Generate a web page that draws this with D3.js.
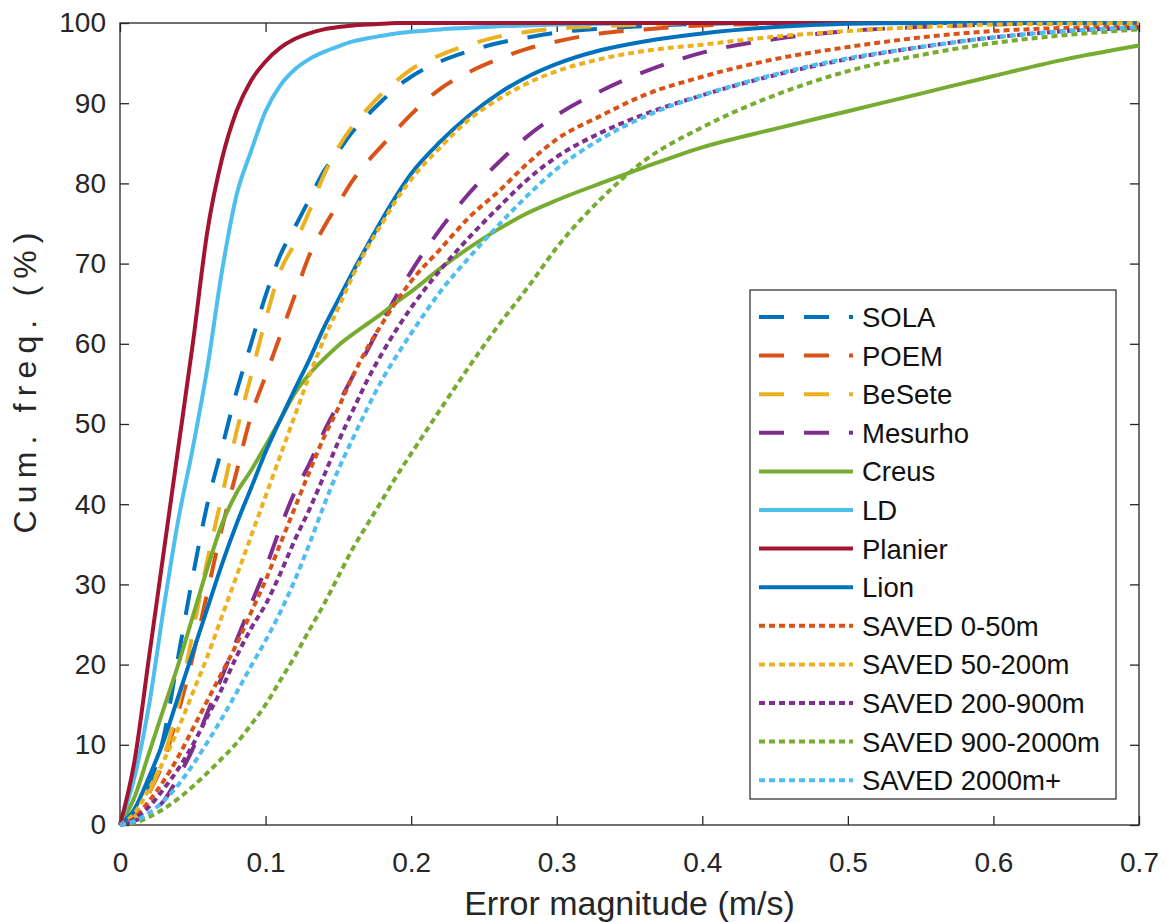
<!DOCTYPE html>
<html><head><meta charset="utf-8">
<script src="https://cdn.jsdelivr.net/npm/d3@7"></script>
<style>
body{margin:0;background:#fff}
svg{display:block}
text{font-family:"Liberation Sans",Arial,Helvetica,sans-serif}
</style>
</head><body>
<svg id="c" width="1168" height="922"></svg>
<script>
// ---- data ----
const errGrid = [0,0.01,0.02,0.03,0.04,0.05,0.06,0.07,0.08,0.09,0.10,0.11,0.12,0.13,0.14,0.15,0.16,0.17,0.18,0.19,0.20,0.22,0.24,0.26,0.28,0.30,0.33,0.36,0.40,0.45,0.50,0.55,0.60,0.65,0.70];

const solaVals    = [0,1.5,5,11,21,31,40,47,54,60,66,71,74.5,78,81.5,84,86.5,88.5,90.3,92,93.3,95.2,96.5,97.5,98.2,98.8,99.3,99.6,99.9,100,100,100,100,100,100];
const poemVals    = [0,1,4,8,14,21,29,37,44,51,56,61,66,71,74.5,77.5,80.4,82.7,84.7,86.7,88.6,91.8,93.9,95.5,96.8,97.7,98.7,99.2,99.7,99.9,100,100,100,100,100];
const beseteVals  = [0,1,4,8.5,15,24,33,41,49,56,63,69,72.5,76.5,81,84.5,87.2,89.3,91.2,92.8,94.2,96,97.3,98.3,98.9,99.3,99.6,99.8,100,100,100,100,100,100,100];
const mesurhoVals = [0,0.5,1.5,3,6,9.5,14,18.5,23,27.5,32,37,41.5,45,49,52.5,56,59.2,62.7,66,69,74.3,78.8,82.6,85.9,88.5,91.5,93.9,96.3,98,99,99.5,99.8,100,100];
const creusVals   = [0,3.5,9,14.5,20,26,32,37.5,41.4,44.2,47.3,50.5,53.8,56.2,58.1,59.8,61.2,62.5,63.8,65.2,66.5,69.4,72,74.3,76.3,77.9,80,82,84.5,86.8,89,91.2,93.4,95.5,97.2];
const ldVals      = [0,6,15,27,38,47,57,69,78.5,84,89,92.2,94.2,95.5,96.4,97.1,97.7,98.1,98.4,98.7,98.9,99.2,99.4,99.6,99.7,99.8,99.9,100,100,100,100,100,100,100,100];
const planierVals = [0,8,21,34,47,60,74,83,89,92.8,95.2,96.9,98,98.7,99.2,99.5,99.7,99.8,99.9,100,100,100,100,100,100,100,100,100,100,100,100,100,100,100,100];
const lionVals    = [0,2,6,10.5,16,21.5,27,32.5,37.5,42,46.5,50.5,54.3,58,62,65.5,69,72.3,75.5,78.5,81.2,85.2,88.5,91.2,93.3,94.9,96.6,97.7,98.7,99.5,99.9,100,100,100,100];
const saved0Vals    = [0,1,3,5.5,8.5,12,15.5,19,22.5,26.5,30.5,35,39.5,44,48.3,52,56,59.5,62.5,65.3,67.8,71.8,75.8,79,82.5,85.5,88.4,91,93.3,95.5,97,98.2,99,99.4,99.6];
const saved50Vals   = [0,1.5,4.5,8,12,16.5,21,26,31,36,41,46,51,56,60.5,64.5,68.5,72,75,78,80.5,84.5,88,90.5,92.5,94,95.5,96.5,97.3,98.3,99,99.5,99.8,99.9,100];
const saved200Vals  = [0,0.8,2.3,4.5,7,10,13.5,17,21,24.5,27.5,31.3,35.5,39.3,43.5,47.8,51.7,55.5,58.8,61.8,64.5,69.2,73.3,77,80.5,83.3,86.3,88.6,91,93.5,95.5,97,98.2,99,99.4];
const saved900Vals  = [0,0.3,1,2,3.3,4.8,6.5,8.3,10.2,12.5,15,18,21,24.3,27.5,31,34.5,37.5,40.5,43.5,46.3,51.8,57.2,62.3,67,72,78,82.8,87,91,94,96,97.5,98.5,99.2];
const saved2000Vals = [0,0.5,1.5,3,5,7.5,10.3,13.3,16.5,19.8,23,26.5,30.5,35,39.8,44.3,48.2,52,55.5,58.5,61.3,66.5,70.8,74.8,78.5,81.8,85.5,88.3,91,93.6,95.6,97,98.2,99,99.5];

const seriesNames = ["SOLA","POEM","BeSete","Mesurho","Creus","LD","Planier","Lion","SAVED 0-50m","SAVED 50-200m","SAVED 200-900m","SAVED 900-2000m","SAVED 2000m+"];
const xTicks = [0,0.1,0.2,0.3,0.4,0.5,0.6,0.7];
const yTicks = [0,10,20,30,40,50,60,70,80,90,100];

// ---- styles ----
const C = {blue:"#0072BD",orange:"#D95319",yellow:"#EDB120",purple:"#7E2F8E",green:"#77AC30",cyan:"#4DBEEE",red:"#A2142F"};
const DASH = "25,20", DOT = "6,4", SOLID = null;
const series = [
  {values:solaVals,color:C.blue,dash:DASH},
  {values:poemVals,color:C.orange,dash:DASH},
  {values:beseteVals,color:C.yellow,dash:DASH},
  {values:mesurhoVals,color:C.purple,dash:DASH},
  {values:creusVals,color:C.green,dash:SOLID},
  {values:ldVals,color:C.cyan,dash:SOLID},
  {values:planierVals,color:C.red,dash:SOLID},
  {values:lionVals,color:C.blue,dash:SOLID},
  {values:saved0Vals,color:C.orange,dash:DOT},
  {values:saved50Vals,color:C.yellow,dash:DOT},
  {values:saved200Vals,color:C.purple,dash:DOT},
  {values:saved900Vals,color:C.green,dash:DOT},
  {values:saved2000Vals,color:C.cyan,dash:DOT}
].map((s,i)=>({...s,name:seriesNames[i]}));

const AX = "#262626";
const svg = d3.select("#c");
svg.append("rect").attr("width",1168).attr("height",922).attr("fill","#fff");

const x = d3.scaleLinear().domain([0,0.7]).range([120,1139]);
const y = d3.scaleLinear().domain([0,100]).range([825,23]);

function styleAxis(g, fs){
  g.select(".domain").remove();
  g.selectAll(".tick line").attr("stroke",AX).attr("stroke-width",1.3);
  g.selectAll(".tick text").attr("fill",AX).attr("font-size",fs);
}
svg.append("g").attr("transform","translate(0,825)")
  .call(d3.axisBottom(x).tickValues(xTicks).tickFormat(d=>String(d)).tickSizeInner(-9).tickSizeOuter(0).tickPadding(27))
  .call(g=>styleAxis(g,28));
svg.append("g").attr("transform","translate(0,23)")
  .call(d3.axisTop(x).tickValues(xTicks).tickFormat("").tickSizeInner(-9).tickSizeOuter(0))
  .call(g=>styleAxis(g,28));
svg.append("g").attr("transform","translate(120,0)")
  .call(d3.axisLeft(y).tickValues(yTicks).tickFormat(d=>String(d)).tickSizeInner(-9).tickSizeOuter(0).tickPadding(14))
  .call(g=>styleAxis(g,28));
svg.append("g").attr("transform","translate(1139,0)")
  .call(d3.axisRight(y).tickValues(yTicks).tickFormat("").tickSizeInner(-9).tickSizeOuter(0))
  .call(g=>styleAxis(g,28));

svg.append("rect").attr("x",x(0)).attr("y",y(100)).attr("width",x(0.7)-x(0)).attr("height",y(0)-y(100))
  .attr("fill","none").attr("stroke",AX).attr("stroke-width",1.3);

// axis labels
svg.append("text").attr("x",(x(0)+x(0.7))/2).attr("y",915).attr("text-anchor","middle")
  .attr("font-size",34).attr("fill",AX).text("Error magnitude (m/s)");
svg.append("text").attr("transform","translate(36,383) rotate(-90)").attr("text-anchor","middle")
  .attr("font-size",32).attr("fill",AX).attr("textLength",301).attr("lengthAdjust","spacing")
  .text("Cum. freq. (%)");

// lines
const line = d3.line().x((d,i)=>x(errGrid[i])).y(d=>y(d)).curve(d3.curveMonotoneX);
svg.append("g").selectAll("path").data(series).join("path")
  .attr("d",d=>line(d.values))
  .attr("fill","none").attr("stroke",d=>d.color).attr("stroke-width",4)
  .attr("stroke-dasharray",d=>d.dash);

// legend
const lg = svg.append("g");
lg.append("rect").attr("x",750).attr("y",290).attr("width",366).attr("height",509)
  .attr("fill","#fff").attr("stroke",AX).attr("stroke-width",1.2);
const rows = lg.selectAll("g.row").data(series).join("g").attr("class","row")
  .attr("transform",(d,i)=>`translate(0,${317+i*38.6})`);
rows.append("line").attr("x1",759).attr("x2",853).attr("y1",0).attr("y2",0)
  .attr("stroke",d=>d.color).attr("stroke-width",4).attr("stroke-dasharray",d=>d.dash);
rows.append("text").attr("x",862).attr("y",0).attr("dy","0.36em").attr("font-size",27.5)
  .attr("fill","#111").text(d=>d.name);
</script>
</body></html>
